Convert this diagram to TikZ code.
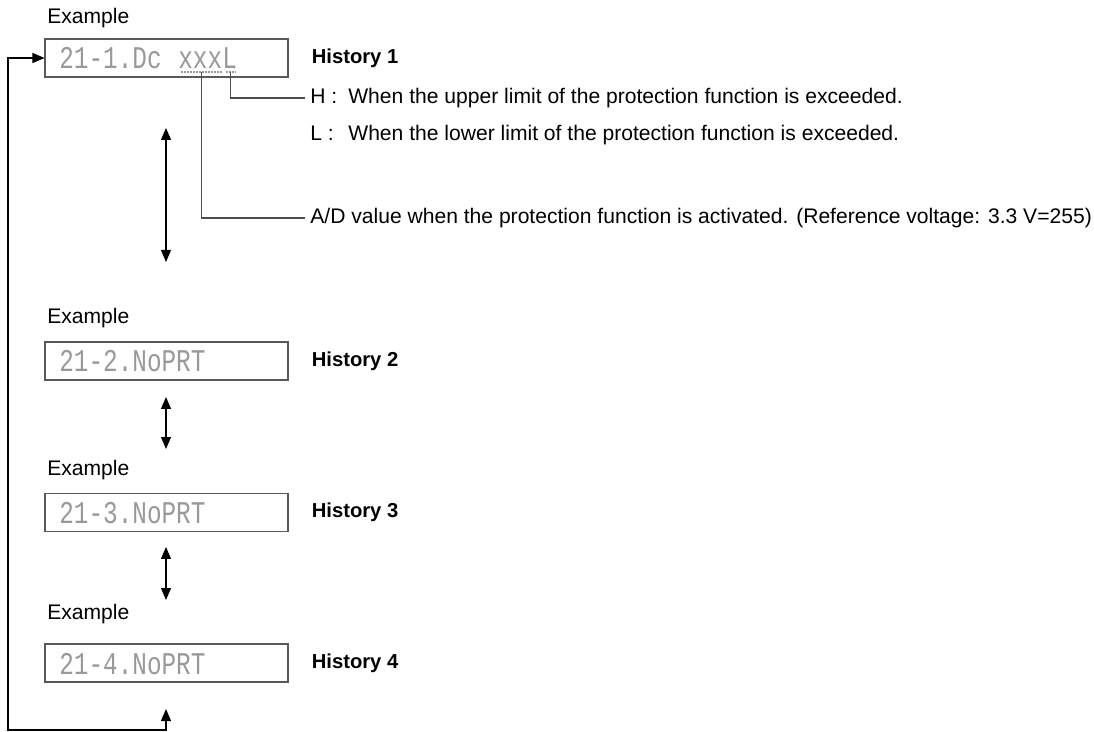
\documentclass[tikz,border=0pt]{standalone}
\usepackage{fontspec}
\setmainfont{Liberation Sans}
\setmonofont{Liberation Mono}
\usetikzlibrary{arrows.meta,positioning,calc}
\definecolor{framegray}{gray}{0.35}
\definecolor{lcdgray}{gray}{0.6}
\definecolor{leadgray}{gray}{0.3}
\newcommand{\lcd}[1]{\scalebox{0.77}[1]{\ttfamily #1}}

\begin{document}
\begin{tikzpicture}[
  x=0.02cm, y=-0.02cm,
  every node/.style={inner sep=0pt},
  lcdbox/.style={draw=framegray,line width=0.6pt,minimum width=4.86cm,
                 minimum height=0.76cm},
  lcdtxt/.style={anchor=base west,text=lcdgray,
                 font=\fontsize{18}{18}\selectfont},
  lbl/.style={anchor=west,font=\fontsize{12}{14}\selectfont},
  desc/.style={lbl,inner xsep=0.1cm},
  hist/.style={font=\fontsize{11.5}{14}\selectfont\bfseries},
  tip/.tip={Triangle[length=0.24cm,width=0.2cm]},
  darr/.style={tip-tip,line width=0.6pt},
  lead/.style={draw=leadgray,line width=0.6pt},
  uline/.style={draw=lcdgray,line width=0.8pt,dash pattern=on 1pt off 0.7pt}
]
\useasboundingbox (0,0) rectangle (1094,732);

% History 1
\node[lbl] (ex1) at (47,18) {Example};
\node[lcdbox] (box1) at (166.5,58) {};
\node[lcdtxt] (code1) at (59,69) {\lcd{21-1.Dc}};
\node[lcdtxt] (val) at (178,69) {\lcd{xxx}};
\node[lcdtxt] (lim) at (222,69) {\lcd{L}};
\node[hist,right=0.46cm of box1] (hist1) {History 1};
\draw[uline] ($(val.base west)+(3,3)$) -- ($(val.base east)+(-1,3)$);
\draw[uline] ($(lim.base west)+(4,3)$) -- ($(lim.base east)+(-1,3)$);
\coordinate (valdot) at ($(val.base)+(1,3)$);
\coordinate (limdot) at ($(lim.base)+(1,3)$);

% Descriptions
\node[desc] (hinfo) at (305,98)
  {\makebox[0.76cm][l]{H :}When the upper limit of the protection function is exceeded.};
\node[desc] (linfo) at (305,135)
  {\makebox[0.76cm][l]{L :}When the lower limit of the protection function is exceeded.};
\node[desc] (adinfo) at (305,218)
  {A/D value when the protection function is activated. (Reference voltage: 3.3 V=255)};
\draw[lead] (limdot) |- (hinfo.west);
\draw[lead] (valdot) |- (adinfo.west);

% History 2
\node[lbl] (ex2) at (47,318.5) {Example};
\node[lcdbox] (box2) at (166.5,361) {};
\node[lcdtxt] (code2) at (59,372) {\lcd{21-2.NoPRT}};
\node[hist,right=0.46cm of box2] (hist2) {History 2};

% History 3
\node[lbl] (ex3) at (47,470) {Example};
\node[lcdbox] (box3) at (166.5,512.5) {};
\node[lcdtxt] (code3) at (59,523.5) {\lcd{21-3.NoPRT}};
\node[hist,right=0.46cm of box3] (hist3) {History 3};

% History 4
\node[lbl] (ex4) at (47,614) {Example};
\node[lcdbox] (box4) at (166.5,663) {};
\node[lcdtxt] (code4) at (59,674) {\lcd{21-4.NoPRT}};
\node[hist,right=0.46cm of box4] (hist4) {History 4};

% Scroll arrows
\coordinate (s1t) at (166,128);
\coordinate (s1b) at (166,262);
\coordinate (s2t) at (166,397);
\coordinate (s2b) at (166,449);
\coordinate (s3t) at (166,547);
\coordinate (s3b) at (166,600);
\draw[darr] (s1t) -- (s1b);
\draw[darr] (s2t) -- (s2b);
\draw[darr] (s3t) -- (s3b);

% Return loop
\coordinate (loopin) at (166,709);
\coordinate (loopc) at (8,730);
\draw[darr] (loopin) |- (loopc) |- (box1.west);
\end{tikzpicture}
\end{document}
